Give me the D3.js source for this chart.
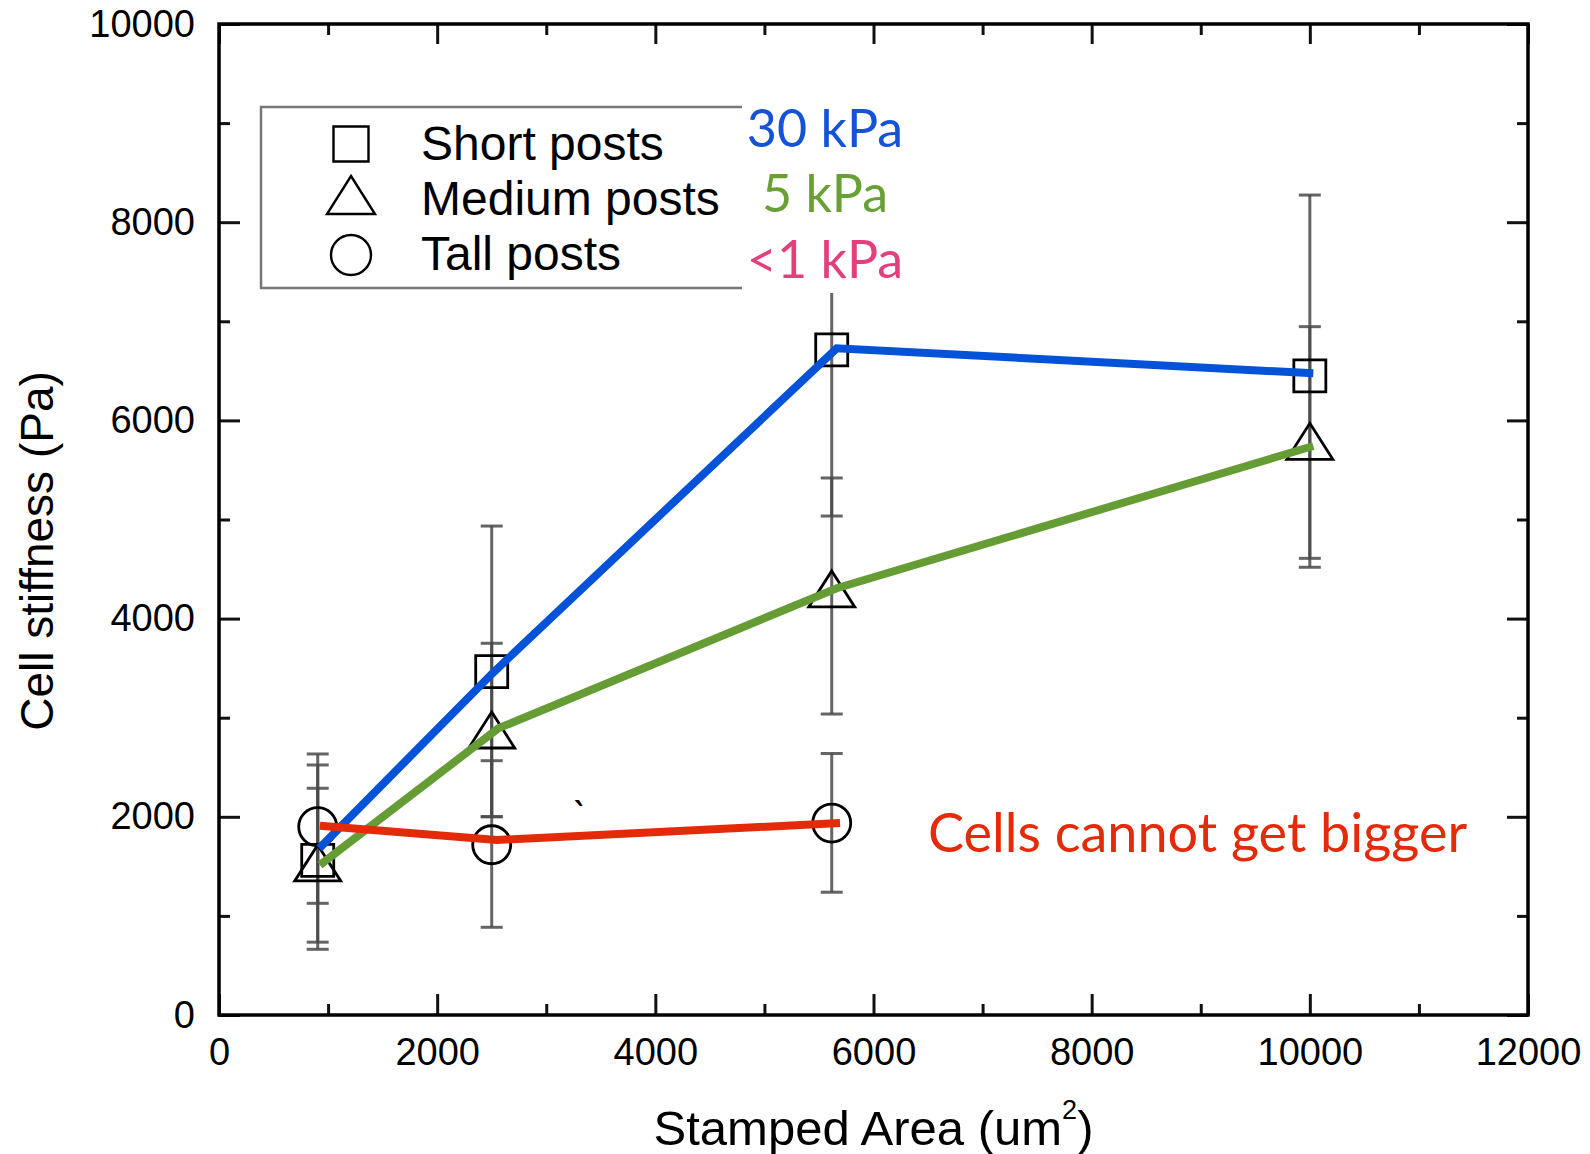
<!DOCTYPE html>
<html>
<head>
<meta charset="utf-8">
<script src="https://cdn.jsdelivr.net/npm/d3@7"></script>
<style>
  html, body { margin: 0; padding: 0; background: #fff; }
  svg { display: block; }
</style>
</head>
<body>
<svg id="chart" width="1590" height="1154"></svg>
<script>
// ---------------- DATA ----------------
const xMajorTicks = [0, 2000, 4000, 6000, 8000, 10000, 12000];
const xMinorTicks = [1000, 3000, 5000, 7000, 9000, 11000];
const yMajorTicks = [0, 2000, 4000, 6000, 8000, 10000];
const yMinorTicks = [1000, 3000, 5000, 7000, 9000];

const areas = [905, 2500, 5617, 10000];

const shortVals      = [1560, 3464, 6712, 6450];
const shortErrUp     = [963, 1470, 1677, 1824];
const shortErrDown   = [897, 1463, 1677, 1842];

const mediumVals     = [1535, 2876, 4299, 5789];
const mediumErrUp    = [753, 875, 1120, 1157];
const mediumErrDown  = [800, 875, 1262, 1271];

const tallAreas      = [905, 2500, 5617];
const tallVals       = [1900, 1718, 1937];
const tallErrUp      = [734, 848, 702];
const tallErrDown    = [773, 833, 698];

// hand-drawn coloured trend lines
const blueLineX  = [919, 2500, 5663, 10032];
const blueLineY  = [1682, 3441, 6728, 6475];
const greenLineX = [925, 2561, 5663, 10032];
const greenLineY = [1514, 2893, 4306, 5742];
const redLineX   = [925, 2546, 5693];
const redLineY   = [1910, 1766, 1937];

const legendLabels = ["Short posts", "Medium posts", "Tall posts"];
const stiffLabels  = ["30 kPa", "5 kPa", "<1 kPa"];
const noteLabel    = "Cells cannot get bigger";

// ---------------- SETUP ----------------
const svg = d3.select("#chart");
const L = 219, R = 1528, T = 24, B = 1015;
const x = d3.scaleLinear().domain([0, 12000]).range([L, R]);
const y = d3.scaleLinear().domain([0, 10000]).range([B, T]);
const tickFont = "'Liberation Sans', Arial, Helvetica, sans-serif";
const gillFont = "Lato, 'Noto Sans', sans-serif";

// ---------------- AXES ----------------
function styleAxis(g) {
  g.select(".domain").remove();
  g.selectAll(".tick line").attr("stroke", "#111").attr("stroke-width", 3);
  g.selectAll(".tick text").attr("fill", "#000").style("font-family", tickFont).style("font-size", "38px");
}
svg.append("g").attr("transform", `translate(0,${B})`)
  .call(d3.axisBottom(x).tickValues(xMajorTicks).tickSize(-21).tickPadding(23).tickFormat(d3.format("d")))
  .call(styleAxis);
svg.append("g").attr("transform", `translate(0,${B})`)
  .call(d3.axisBottom(x).tickValues(xMinorTicks).tickSize(-11).tickFormat(""))
  .call(styleAxis);
svg.append("g").attr("transform", `translate(0,${T})`)
  .call(d3.axisTop(x).tickValues(xMajorTicks).tickSize(-20).tickFormat(""))
  .call(styleAxis);
svg.append("g").attr("transform", `translate(0,${T})`)
  .call(d3.axisTop(x).tickValues(xMinorTicks).tickSize(-11).tickFormat(""))
  .call(styleAxis);
svg.append("g").attr("transform", `translate(${L},0)`)
  .call(d3.axisLeft(y).tickValues(yMajorTicks).tickSize(-21).tickPadding(24).tickFormat(d3.format("d")))
  .call(styleAxis);
svg.append("g").attr("transform", `translate(${L},0)`)
  .call(d3.axisLeft(y).tickValues(yMinorTicks).tickSize(-11).tickFormat(""))
  .call(styleAxis);
svg.append("g").attr("transform", `translate(${R},0)`)
  .call(d3.axisRight(y).tickValues(yMajorTicks).tickSize(-21).tickFormat(""))
  .call(styleAxis);
svg.append("g").attr("transform", `translate(${R},0)`)
  .call(d3.axisRight(y).tickValues(yMinorTicks).tickSize(-11).tickFormat(""))
  .call(styleAxis);

// frame
svg.append("rect").attr("x", L).attr("y", T).attr("width", R - L).attr("height", B - T)
  .attr("fill", "none").attr("stroke", "#000").attr("stroke-width", 3.5);

// axis titles
svg.append("text")
  .attr("x", (L + R) / 2).attr("y", 1145)
  .attr("text-anchor", "middle")
  .style("font-family", tickFont).style("font-size", "49px").attr("fill", "#000")
  .call(t => {
    t.append("tspan").text("Stamped Area (um");
    t.append("tspan").attr("dy", -26).style("font-size", "27px").text("2");
    t.append("tspan").attr("dy", 26).text(")");
  });
svg.append("text")
  .attr("transform", "translate(53,551) rotate(-90)")
  .attr("text-anchor", "middle")
  .style("font-family", tickFont).style("font-size", "46px").attr("fill", "#000")
  .text("Cell stiffness (Pa)");

// ---------------- ERROR BARS & MARKERS ----------------
const capW = 11;
function errorBars(xs, vals, up, down) {
  const g = svg.append("g").attr("stroke", "#4a4a4a").attr("stroke-width", 3).attr("stroke-opacity", 0.85);
  xs.forEach((a, i) => {
    const hi = vals[i] + up[i], lo = vals[i] - down[i];
    g.append("line").attr("x1", x(a)).attr("x2", x(a)).attr("y1", y(hi)).attr("y2", y(lo));
    g.append("line").attr("x1", x(a) - capW).attr("x2", x(a) + capW).attr("y1", y(hi)).attr("y2", y(hi));
    g.append("line").attr("x1", x(a) - capW).attr("x2", x(a) + capW).attr("y1", y(lo)).attr("y2", y(lo));
  });
}
errorBars(areas, shortVals, shortErrUp, shortErrDown);
errorBars(areas, mediumVals, mediumErrUp, mediumErrDown);
errorBars(tallAreas, tallVals, tallErrUp, tallErrDown);

function squarePath(cx, cy, s) { return `M${cx - s/2},${cy - s/2}h${s}v${s}h${-s}Z`; }
function triPath(cx, cy, w, h) { return `M${cx},${cy - h/2}L${cx + w/2},${cy + h/2}L${cx - w/2},${cy + h/2}Z`; }

const mk = svg.append("g").attr("fill", "none").attr("stroke", "#000").attr("stroke-width", 2.8);
areas.forEach((a, i) => mk.append("path").attr("d", squarePath(x(a), y(shortVals[i]), 32)));
areas.forEach((a, i) => mk.append("path").attr("d", triPath(x(a), y(mediumVals[i]), 46, 36)));
tallAreas.forEach((a, i) => mk.append("circle").attr("cx", x(a)).attr("cy", y(tallVals[i])).attr("r", 19));

// ---------------- COLOURED LINES ----------------
const line = d3.line().x(d => x(d[0])).y(d => y(d[1]));
function drawLine(xs, ys, color) {
  svg.append("path").datum(xs.map((v, i) => [v, ys[i]]))
    .attr("d", line).attr("fill", "none").attr("stroke", color)
    .attr("stroke-width", 8).attr("stroke-linejoin", "miter");
}
drawLine(blueLineX, blueLineY, "#0352d8");
drawLine(greenLineX, greenLineY, "#659c34");
drawLine(redLineX, redLineY, "#e42a08");

// ---------------- LEGEND ----------------
svg.append("rect").attr("x", 261).attr("y", 107).attr("width", 520).attr("height", 181)
  .attr("fill", "#fff").attr("stroke", "#777").attr("stroke-width", 2.5);
const legY = [144, 195, 255];
const lg = svg.append("g").attr("fill", "none").attr("stroke", "#000").attr("stroke-width", 2.4);
lg.append("path").attr("d", squarePath(351, legY[0], 35));
lg.append("path").attr("d", triPath(351, legY[1], 48, 38));
lg.append("circle").attr("cx", 351).attr("cy", legY[2]).attr("r", 20);
const legBase = [160, 215, 270];
legendLabels.forEach((t, i) => {
  svg.append("text").attr("x", 421).attr("y", legBase[i])
    .style("font-family", tickFont).style("font-size", "48px").attr("fill", "#000").text(t);
});

// white overlay box for stiffness labels
svg.append("rect").attr("x", 742).attr("y", 92).attr("width", 165).attr("height", 201).attr("fill", "#fff");
const stiffColors = ["#1452d6", "#68a036", "#e23f7c"];
const stiffBase = [147, 212, 278];
stiffLabels.forEach((t, i) => {
  svg.append("text").attr("x", 825).attr("y", stiffBase[i]).attr("text-anchor", "middle")
    .style("font-family", gillFont).style("font-size", "52px").attr("fill", stiffColors[i]).text(t);
});

svg.append("text").attr("x", 928).attr("y", 852)
  .style("font-family", gillFont).style("font-size", "54px").attr("fill", "#e42a08").text(noteLabel);
svg.append("text").attr("x", 572).attr("y", 830)
  .style("font-family", gillFont).style("font-size", "40px").attr("fill", "#000").text("`");
</script>
</body>
</html>
